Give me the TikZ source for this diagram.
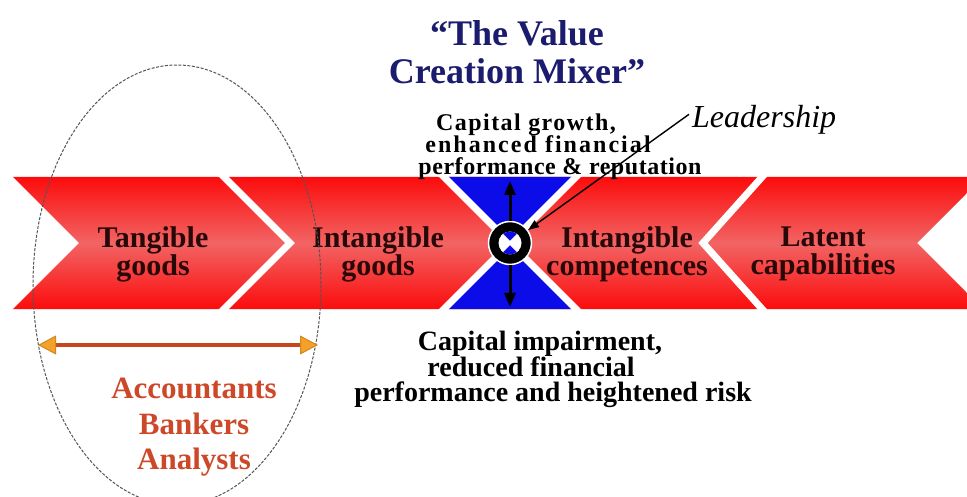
\documentclass[tikz,border=0pt]{standalone}
\usepackage{fontspec}
\setmainfont{Liberation Serif}
\usetikzlibrary{arrows.meta,calc}
\definecolor{bandred}{RGB}{252,12,12}
\definecolor{bandmid}{RGB}{242,100,100}
\definecolor{mixblue}{RGB}{12,12,232}
\definecolor{titlenavy}{RGB}{28,28,110}
\definecolor{labeldark}{RGB}{40,8,8}
\definecolor{roleorange}{RGB}{205,72,40}
\definecolor{arrowline}{RGB}{200,70,30}
\definecolor{arrowheadc}{RGB}{245,160,40}
\definecolor{ellgray}{RGB}{85,85,85}
\newcommand\tightlines{\lineskiplimit-50pt\relax}
\tikzset{
  gapline/.style={draw=white, line width=7pt},
  bandlabel/.style={anchor=north, inner sep=0pt, align=center, text=labeldark,
    font={\fontsize{30}{28}\selectfont\bfseries\tightlines}},
  titletext/.style={anchor=north, inner sep=0pt, align=center, text=titlenavy,
    font={\fontsize{36}{38}\selectfont\bfseries\tightlines}},
  effecttext/.style={anchor=north, inner sep=0pt, align=center, text=black},
  roletext/.style={anchor=north, inner sep=0pt, align=center, text=roleorange,
    font={\fontsize{31}{35.5}\selectfont\bfseries\tightlines}},
  leadtext/.style={inner sep=0pt, text=black, font={\fontsize{32}{36}\selectfont\itshape}},
  vertarrow/.style={draw=black, line width=3pt, -{Triangle[length=14pt,width=11pt]}},
  leadarrow/.style={draw=black, line width=1.4pt, -{Triangle[length=11pt,width=8pt]}},
  ellipsestyle/.style={draw=ellgray, line width=1pt, dash pattern=on 3pt off 1.5pt},
  rolearrow/.style={draw=arrowline, line width=4pt, {Triangle[length=18pt,width=19pt,line width=1pt,fill=arrowheadc,color=arrowheadc!85!black]}-{Triangle[length=18pt,width=19pt,line width=1pt,fill=arrowheadc,color=arrowheadc!85!black]}}
}
\begin{document}
\begin{tikzpicture}[x=1pt,y=-1pt]
\useasboundingbox (0,0) rectangle (967,497);
\clip (0,0) rectangle (967,497);
\fill[white] (0,0) rectangle (967,497);

% red band
\shade[top color=bandred, bottom color=bandred, middle color=bandmid]
  (13,177) -- (983,177) -- (917,243) -- (983,309) -- (13,309) -- (79,243) -- cycle;
% blue hourglass
\fill[mixblue] (444,177) -- (576,177) -- (510,243) -- cycle;
\fill[mixblue] (444,309) -- (576,309) -- (510,243) -- cycle;
% white gaps
\begin{scope}
  \clip (0,177) rectangle (967,309);
  \draw[gapline] (214,167) -- (290,243) -- (214,319);
  \draw[gapline] (434,167) -- (586,319);
  \draw[gapline] (586,167) -- (434,319);
  \draw[gapline] (771,167) -- (703,243) -- (771,319);
\end{scope}

% mixer
\node[circle, fill=black, draw=white, line width=1.5pt, minimum size=43pt, inner sep=0pt] (mix) at (510,243) {};
\begin{scope}
  \clip (510,243) circle[radius=11.5pt];
  \fill[white] (495,228) rectangle (525,258);
  \fill[mixblue] (496,229) -- (524,229) -- (510,243) -- cycle;
  \fill[mixblue] (496,257) -- (524,257) -- (510,243) -- cycle;
  \draw[white, line width=3pt] (496,229) -- (524,257);
  \draw[white, line width=3pt] (524,229) -- (496,257);
\end{scope}
\coordinate (uptip) at (510,181);
\coordinate (downtip) at (510,307);
\draw[vertarrow] (mix.north) -- (uptip);
\draw[vertarrow] (mix.south) -- (downtip);

% labels in band
\node[bandlabel] (tg) at (153,226.5) {Tangible\\goods};
\node[bandlabel] (ig) at (378,226.5) {Intangible\\goods};
\node[bandlabel] (ic) at (627,226.5) {Intangible\\competences};
\node[bandlabel] (lc) at (823,226.5) {Latent\\capabilities};

% ellipse
\draw[ellipsestyle] (177,285) ellipse [x radius=144, y radius=220];

% title and effects
\node[titletext] (title) at (517,20.5) {“The Value\\Creation Mixer”};
\node[effecttext, font={\fontsize{24}{22}\selectfont\bfseries\tightlines}] (gain) at (545,113.6)
  {{\addfontfeature{LetterSpace=6}Capital growth,}\rule{38pt}{0pt}\\{\addfontfeature{LetterSpace=8.5}enhanced financial}\rule{14pt}{0pt}\\\rule{30pt}{0pt}{\addfontfeature{LetterSpace=2.3}performance \& reputation}};
\node[effecttext, font={\fontsize{28}{25.5}\selectfont\bfseries\tightlines}] (loss) at (545,331)
  {Capital impairment,\rule{10pt}{0pt}\\reduced financial\rule{28pt}{0pt}\\\rule{16pt}{0pt}performance and heightened risk};

% leadership
\node[leadtext, anchor=base west] (lead) at (692,128) {Leadership};
\draw[leadarrow] ($(lead.west)+(-3,-6)$) -- (mix);

% roles
\coordinate (oL) at (38,345);
\coordinate (oR) at (318,345);
\draw[rolearrow] (oL) -- (oR);
\node[roletext] (roles) at (194,378) {Accountants\\Bankers\\Analysts};
\end{tikzpicture}
\end{document}
